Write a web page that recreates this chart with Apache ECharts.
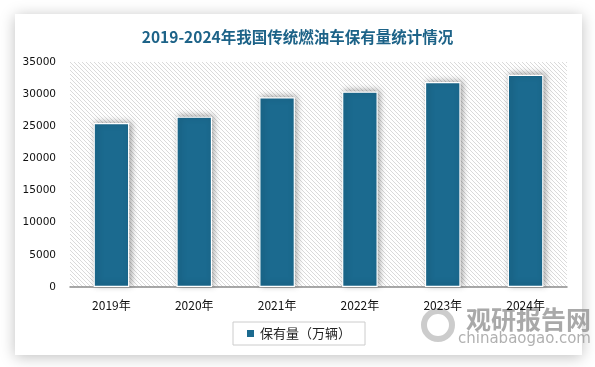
<!DOCTYPE html>
<html><head><meta charset="utf-8">
<script src="https://cdn.jsdelivr.net/npm/echarts@6/dist/echarts.min.js"></script>
<style>html,body{margin:0;padding:0;background:#fff;}#c{width:595px;height:367px;}</style>
</head><body><div id="c"></div>
<script>
const categories = ['2019年','2020年','2021年','2022年','2023年','2024年'];
const values = [25500, 26500, 29500, 30400, 31900, 33000];
const seriesName = '保有量（万辆）';
const titleText = '2019-2024年我国传统燃油车保有量统计情况';

function makePattern(){
  const c = document.createElement('canvas');
  c.width = 4; c.height = 4;
  const g = c.getContext('2d');
  g.fillStyle = '#ffffff'; g.fillRect(0,0,4,4);
  g.fillStyle = '#dadada';
  for (let i=0;i<4;i++){ g.fillRect(i,i,1,1); }
  return c;
}
const chart = echarts.init(document.getElementById('c'), null, {renderer:'canvas'});
chart.setOption({
  animation:false,
  backgroundColor:'#ffffff',
  graphic:[
    {type:'rect', z:-10, shape:{x:15,y:14,width:567,height:341},
     style:{fill:'#fff', shadowBlur:14, shadowColor:'rgba(0,0,0,0.25)', shadowOffsetX:0, shadowOffsetY:2}},
    {type:'text', left:466, top:307, z:-1, style:{text:'观研报告网', font:'bold 25px "Noto Sans CJK SC"', fill:'rgba(140,140,140,0.75)'}},
    {type:'text', left:458, top:332, z:-1, style:{text:'chinabaogao.com', font:'15px "DejaVu Sans"', fill:'rgba(150,150,150,0.75)'}},
    {type:'circle', z:-1, shape:{cx:438,cy:325,r:14}, style:{fill:'none', stroke:'rgba(170,170,170,0.6)', lineWidth:6}}
  ],
  title:{text:titleText, left:'center', top:24,
    textStyle:{fontSize:15.5, fontWeight:'bold', color:'#1d6388', fontFamily:'"Noto Sans CJK SC", sans-serif'}},
  legend:{data:[seriesName], left:233, top:322, icon:'rect', itemWidth:9, itemHeight:9,
    borderColor:'#cccccc', borderWidth:1, padding:[5,14,5,12], borderRadius:0,
    textStyle:{fontSize:13, color:'#222', fontFamily:'"Noto Sans CJK SC", sans-serif'}},
  grid:{left:70, right:28, top:62, bottom:80, show:true, borderWidth:0,
    backgroundColor:{image:makePattern(), repeat:'repeat'}},
  xAxis:{type:'category', data:categories,
    axisLine:{lineStyle:{color:'#8c8c8c', width:1.5}}, axisTick:{show:false},
    axisLabel:{margin:12, fontSize:12, color:'#111', fontFamily:'"Noto Sans CJK SC", sans-serif'}},
  yAxis:{type:'value', min:0, max:35000, interval:5000,
    axisLine:{show:false}, axisTick:{show:false}, splitLine:{show:false},
    axisLabel:{margin:14, fontSize:10.5, color:'#111', formatter:function(v){return String(v);}, fontFamily:'"DejaVu Sans", sans-serif'}},
  series:[{name:seriesName, type:'bar', data:values, barWidth:'43%',
    itemStyle:{color:'#1b6a8f', borderColor:'#ffffff', borderWidth:1.2,
      shadowBlur:6, shadowColor:'rgba(0,0,0,0.35)', shadowOffsetX:2, shadowOffsetY:-1}}]
});
</script></body></html>
